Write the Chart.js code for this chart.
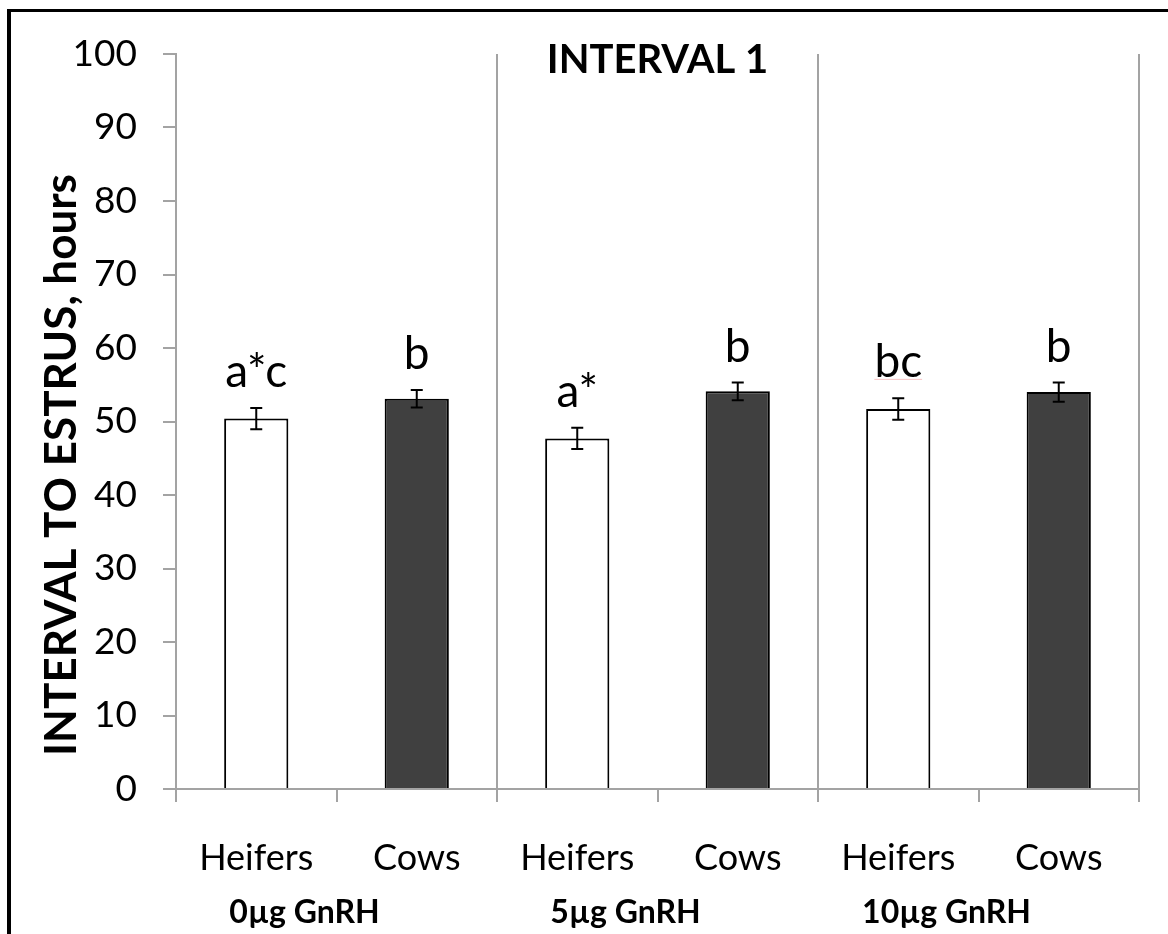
<!DOCTYPE html>
<html>
<head>
<meta charset="utf-8">
<title>Interval to estrus</title>
<script src="https://cdn.jsdelivr.net/npm/chart.js@4.4.1/dist/chart.umd.min.js"></script>
<style>
    html, body { margin: 0; padding: 0; background: #fff; }
    #wrap { position: relative; width: 1168px; height: 934px; overflow: hidden; }
    #frame {
        position: absolute; left: 7px; top: 9px; width: 1300px; height: 1100px;
        border-left: 4px solid #000; border-top: 3px solid #000; pointer-events: none;
    }
</style>
</head>
<body>
<div id="wrap">
    <canvas id="myChartInterval" width="1168" height="934"></canvas>
    <div id="frame"></div>
</div>
<script>
//DATA
const animalTypes = ['Heifers', 'Cows', 'Heifers', 'Cows', 'Heifers', 'Cows'];
const doseGroups = ['0µg GnRH', '5µg GnRH', '10µg GnRH'];
const meanHours = [50.4, 53.1, 47.7, 54.1, 51.7, 54.0];
const semHours = [1.45, 1.2, 1.45, 1.2, 1.45, 1.3];
const sigLetters = ['a*c', 'b', 'a*', 'b', 'bc', 'b'];
const yTicks = [0, 10, 20, 30, 40, 50, 60, 70, 80, 90, 100];

const FONT = 'Lato, "Liberation Sans", sans-serif';
const AXIS_GREY = '#a3a3a3';

//FILL PER ANIMAL TYPE
const barColors = animalTypes.map(t => t === 'Heifers' ? '#ffffff' : '#404040');


//ERROR BARS, LETTERS, GROUP LABELS AND TITLES
const extrasPlugin = {
    id: 'extras',
    afterDatasetsDraw(chart) {
        const ctx = chart.ctx;
        const xs = chart.scales.x;
        const ys = chart.scales.y;

        ctx.save();
        ctx.strokeStyle = '#000';
        ctx.fillStyle = '#000';
        ctx.lineWidth = 2;

        for (let i = 0; i < meanHours.length; i++) {
            const px = xs.getPixelForValue(i);
            const top = ys.getPixelForValue(meanHours[i] + semHours[i]);
            const bot = ys.getPixelForValue(meanHours[i] - semHours[i]);
            ctx.beginPath();
            ctx.moveTo(px, top); ctx.lineTo(px, bot);
            ctx.moveTo(px - 6, top); ctx.lineTo(px + 6, top);
            ctx.moveTo(px - 6, bot); ctx.lineTo(px + 6, bot);
            ctx.stroke();

            ctx.font = '46px ' + FONT;
            ctx.textAlign = 'center';
            ctx.textBaseline = 'alphabetic';
            ctx.fillText(sigLetters[i], px, top - 21);

            // spelling mark under the 'bc' letters
            if (sigLetters[i] === 'bc') {
                const w = ctx.measureText(sigLetters[i]).width;
                ctx.save();
                ctx.strokeStyle = 'rgba(235, 120, 120, 0.45)';
                ctx.lineWidth = 1;
                ctx.beginPath();
                ctx.moveTo(px - w / 2, top - 19);
                ctx.lineTo(px + w / 2, top - 19);
                ctx.stroke();
                ctx.restore();
            }
        }

        // dose groups under each pair of bars
        ctx.font = 'bold 32px ' + FONT;
        ctx.textAlign = 'center';
        ctx.textBaseline = 'middle';
        for (let g = 0; g < doseGroups.length; g++) {
            const mid = (xs.getPixelForValue(g * 2) + xs.getPixelForValue(g * 2 + 1)) / 2;
            ctx.fillText(doseGroups[g], mid - 32, 913);
        }

        // chart title
        ctx.font = 'bold 40px ' + FONT;
        ctx.textBaseline = 'alphabetic';
        ctx.fillText('INTERVAL 1', (chart.chartArea.left + chart.chartArea.right) / 2, 73);

        // y axis title
        ctx.translate(76, 465);
        ctx.rotate(-Math.PI / 2);
        ctx.font = 'bold 44px ' + FONT;
        ctx.fillText('INTERVAL TO ESTRUS, hours', 0, 0);

        ctx.restore();
    }
};


const ctx = document.getElementById('myChartInterval');

new Chart(ctx, {
    type: 'bar',
    data: {
        labels: animalTypes,
        datasets: [{
            data: meanHours,
            backgroundColor: barColors,
            borderColor: '#000000',
            borderWidth: 2,
            barPercentage: 0.4,
            categoryPercentage: 1.0
        }]
    },
    options: {
        responsive: false,
        animation: false,
        devicePixelRatio: 1,
        layout: {
            padding: { top: 54, right: 29, left: 0, bottom: 0 }
        },
        plugins: {
            legend: { display: false },
            tooltip: { enabled: false }
        },
        scales: {
            x: {
                afterFit: (scale) => { scale.height = 145; },
                border: { color: AXIS_GREY, width: 2 },
                grid: {
                    offset: true,
                    lineWidth: 2,
                    // separators between dose groups, plus the right edge
                    color: (c) => (c.index === 2 || c.index === 4 || c.index === undefined) ? AXIS_GREY : 'rgba(0,0,0,0)',
                    tickColor: AXIS_GREY,
                    tickLength: 13
                },
                ticks: {
                    color: '#000',
                    padding: 35,
                    font: { family: FONT, size: 36 }
                }
            },
            y: {
                min: 0,
                max: 100,
                afterFit: (scale) => { scale.width = 176; },
                afterBuildTicks: (scale) => { scale.ticks = yTicks.map(v => ({ value: v })); },
                border: { color: AXIS_GREY, width: 2 },
                grid: {
                    drawOnChartArea: false,
                    lineWidth: 2,
                    tickColor: AXIS_GREY,
                    tickLength: 13
                },
                ticks: {
                    color: '#000',
                    padding: 26,
                    font: { family: FONT, size: 37 }
                }
            }
        }
    },
    plugins: [extrasPlugin]
});
</script>
</body>
</html>
